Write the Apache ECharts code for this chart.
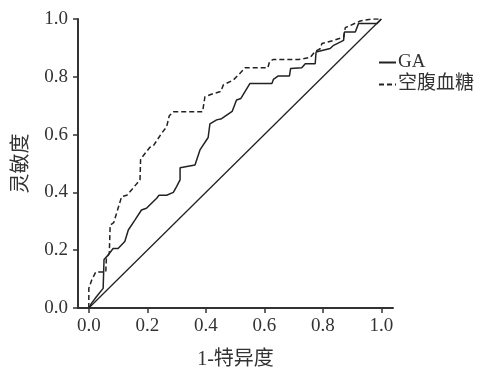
<!DOCTYPE html>
<html>
<head>
<meta charset="utf-8">
<script src="https://cdn.jsdelivr.net/npm/echarts@6/dist/echarts.min.js"></script>
<style>
  html, body { margin: 0; padding: 0; background: #fff; }
  #chart { width: 483px; height: 368px; }
</style>
</head>
<body>
<div id="chart"></div>
<script>
// ROC curves: 1-specificity (x) vs sensitivity (y)
const gaX = [0, 0.009, 0.026, 0.049, 0.052, 0.066, 0.083, 0.1, 0.123, 0.135, 0.158, 0.18, 0.197, 0.232, 0.24, 0.266, 0.289, 0.3, 0.312, 0.312, 0.363, 0.38, 0.408, 0.414, 0.437, 0.454, 0.49, 0.505, 0.52, 0.551, 0.626, 0.631, 0.648, 0.686, 0.69, 0.728, 0.74, 0.774, 0.777, 0.825, 0.837, 0.871, 0.874, 0.911, 0.922, 0.985, 1];
const gaY = [0, 0.016, 0.039, 0.068, 0.168, 0.183, 0.206, 0.206, 0.23, 0.27, 0.305, 0.339, 0.345, 0.38, 0.39, 0.39, 0.4, 0.42, 0.443, 0.485, 0.495, 0.547, 0.59, 0.637, 0.651, 0.655, 0.68, 0.72, 0.725, 0.777, 0.777, 0.791, 0.803, 0.803, 0.829, 0.831, 0.845, 0.845, 0.886, 0.898, 0.909, 0.926, 0.955, 0.955, 0.984, 0.984, 1];

const fpgX = [0, 0, 0.01, 0.024, 0.058, 0.06, 0.07, 0.073, 0.085, 0.112, 0.13, 0.175, 0.177, 0.197, 0.209, 0.22, 0.249, 0.266, 0.275, 0.289, 0.389, 0.397, 0.426, 0.451, 0.46, 0.494, 0.517, 0.534, 0.612, 0.618, 0.631, 0.717, 0.757, 0.774, 0.791, 0.797, 0.837, 0.871, 0.877, 0.928, 0.968, 1];
const fpgY = [0, 0.068, 0.097, 0.125, 0.125, 0.17, 0.19, 0.287, 0.295, 0.385, 0.39, 0.443, 0.515, 0.541, 0.556, 0.56, 0.605, 0.627, 0.665, 0.679, 0.679, 0.731, 0.742, 0.749, 0.772, 0.789, 0.812, 0.831, 0.831, 0.853, 0.86, 0.86, 0.867, 0.888, 0.897, 0.915, 0.926, 0.937, 0.97, 0.993, 1.0, 1];

const refX = [0, 1];
const refY = [0, 1];

const xTicks = [0, 0.2, 0.4, 0.6, 0.8, 1.0];
const seriesNames = ["GA", "空腹血糖"];

const font = "'Liberation Serif', 'Noto Sans CJK SC', serif";
const ink = "#333";

const pairs = (xs, ys) => xs.map((x, i) => [x, ys[i]]);

const chart = echarts.init(document.getElementById("chart"), null, { renderer: "canvas" });

const option = {
  backgroundColor: "#fff",
  animation: false,
  grid: { left: 78, right: 90, top: 19, bottom: 60, outerBoundsMode: "none" },
  legend: {
    orient: "vertical",
    left: 378,
    top: 53,
    padding: 0,
    itemGap: 3,
    itemWidth: 17,
    itemHeight: 12,
    data: seriesNames,
    itemStyle: { opacity: 0 },
    textStyle: { fontFamily: font, fontSize: 19, color: ink, padding: [0, 0, 0, -3] },
  },
  xAxis: {
    type: "value",
    min: -0.037,
    max: 1.04,
    name: "1-特异度",
    nameLocation: "middle",
    nameGap: 42,
    nameTextStyle: { fontFamily: font, fontSize: 20, color: ink },
    axisLine: { onZero: false, lineStyle: { color: ink, width: 2 } },
    axisTick: { customValues: xTicks, length: 5, lineStyle: { color: ink, width: 1.5 } },
    axisLabel: {
      customValues: xTicks,
      margin: 9,
      fontFamily: font,
      fontSize: 19,
      color: ink,
      formatter: (v) => v.toFixed(1),
    },
    splitLine: { show: false },
  },
  yAxis: {
    type: "value",
    min: 0,
    max: 1,
    interval: 0.2,
    name: "灵敏度",
    nameLocation: "middle",
    nameGap: 46,
    nameTextStyle: { fontFamily: font, fontSize: 20, color: ink },
    axisLine: { show: true, onZero: false, lineStyle: { color: ink, width: 2 } },
    axisTick: { show: true, length: 5, lineStyle: { color: ink, width: 1.5 } },
    axisLabel: {
      margin: 10,
      fontFamily: font,
      fontSize: 19,
      color: ink,
      formatter: (v) => v.toFixed(1),
    },
    splitLine: { show: false },
  },
  series: [
    {
      name: seriesNames[0],
      type: "line",
      data: pairs(gaX, gaY),
      symbol: "none",
      lineStyle: { color: "#222", width: 1.5 },
      itemStyle: { color: "#222" },
    },
    {
      name: seriesNames[1],
      type: "line",
      data: pairs(fpgX, fpgY),
      symbol: "none",
      lineStyle: { color: "#222", width: 1.5, type: [5, 3] },
      itemStyle: { color: "#222" },
    },
    {
      name: "ref",
      type: "line",
      data: pairs(refX, refY),
      symbol: "none",
      lineStyle: { color: "#222", width: 1.3 },
      silent: true,
    },
  ],
};

chart.setOption(option);
</script>
</body>
</html>
